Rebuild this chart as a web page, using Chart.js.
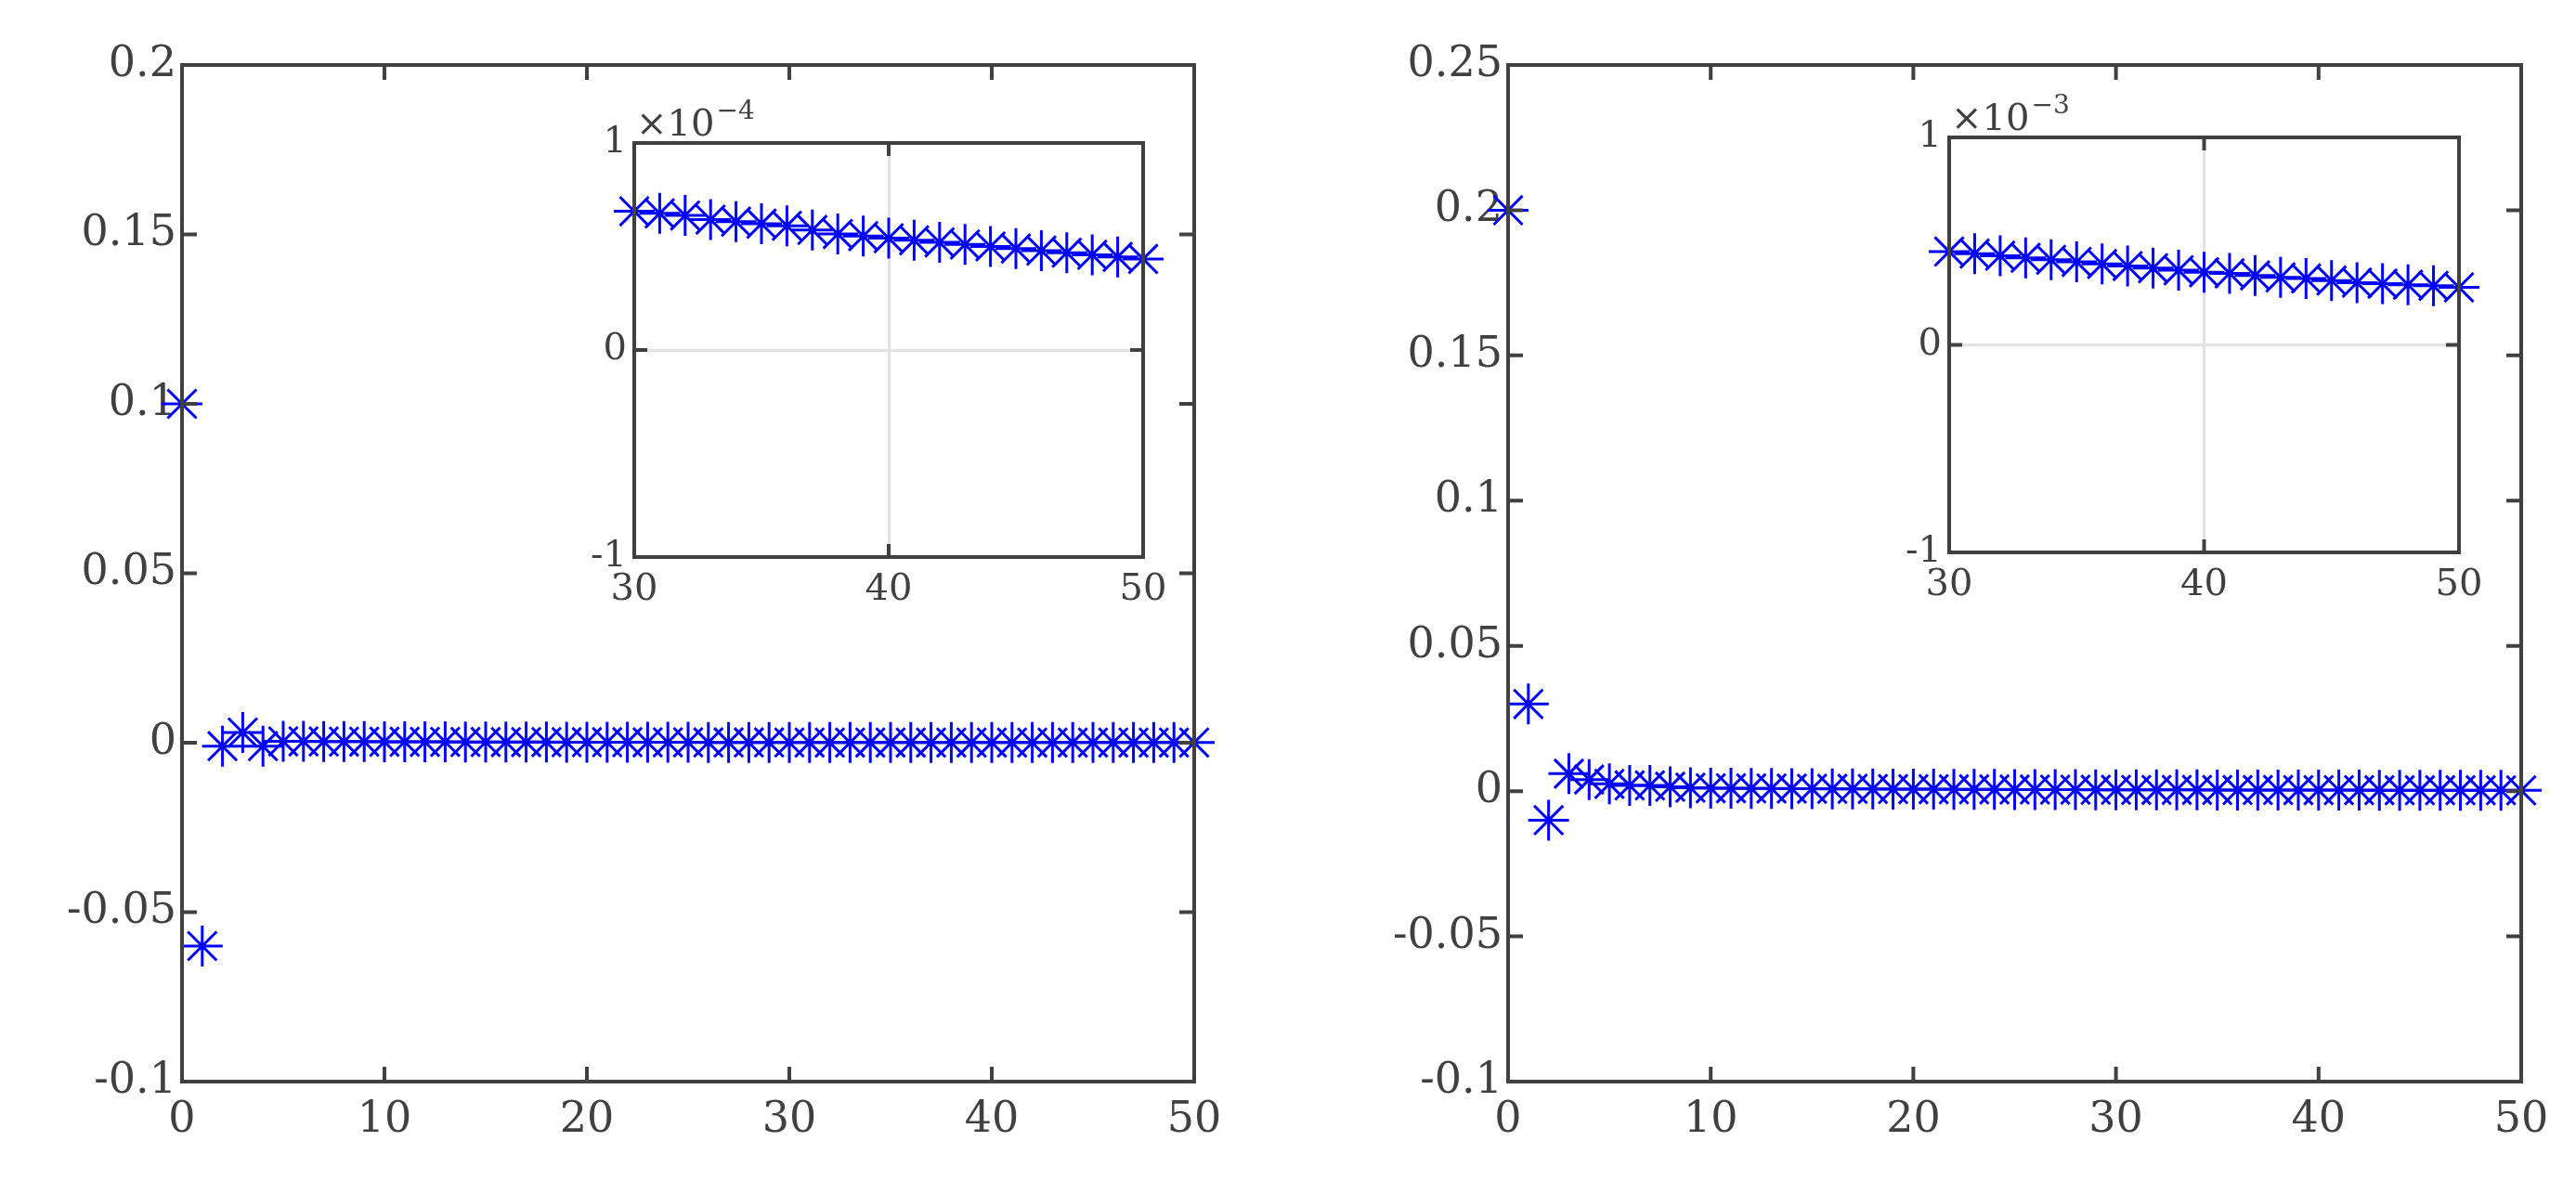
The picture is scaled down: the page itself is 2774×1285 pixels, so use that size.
<!DOCTYPE html>
<html><head><meta charset="utf-8">
<script src="https://cdn.jsdelivr.net/npm/chart.js@4"></script>
<style>body{margin:0;background:#fff;width:2774px;height:1285px;position:relative;overflow:hidden}canvas{position:absolute}</style>
</head><body>
<canvas id="m1"></canvas><canvas id="i1"></canvas><canvas id="m2"></canvas><canvas id="i2"></canvas>
<script>
const iters = Array.from({length:51},(_,i)=>i);
const insetIters = iters.slice(30);
const leftValues = [0.1,-0.06,-0.001,0.003,-0.001,0.0004,0.00038,0.00036,0.00034,0.00032,0.0003,0.00028,0.00026,0.00025,0.00023,0.00022,0.0002,0.00019,0.00018,0.00017,0.00016,0.00015,0.00014,0.00013,0.00012,0.00011,0.0001,0.000095,0.00009,0.000085];
const leftInset = [0.67,0.66,0.65,0.63,0.62,0.61,0.60,0.58,0.56,0.55,0.54,0.53,0.52,0.51,0.50,0.49,0.48,0.47,0.46,0.45,0.44];
const rightValues = [0.2,0.03,-0.01,0.006,0.004,0.0025,0.002,0.002,0.0015,0.0012,0.001,0.00097,0.00094,0.0009,0.00087,0.00084,0.0008,0.00077,0.00074,0.00071,0.00068,0.00066,0.00063,0.00061,0.00058,0.00056,0.00054,0.00052,0.0005,0.00048];
const rightInset = [0.45,0.44,0.43,0.42,0.41,0.40,0.39,0.38,0.37,0.36,0.35,0.345,0.335,0.325,0.32,0.31,0.30,0.295,0.29,0.285,0.277];
const leftYTicks=[-0.1,-0.05,0,0.05,0.1,0.15,0.2], rightYTicks=[-0.1,-0.05,0,0.05,0.1,0.15,0.2,0.25];
const mainXTicks=[0,10,20,30,40,50], insetXTicks=[30,40,50], insetYTicks=[-1,0,1];

const FONT='"DejaVu Serif","Liberation Serif",serif', INK='#404040';
function pts(xs,ys){return xs.map((x,i)=>({x,y:ys[i]}));}

function make(id,cw,ch,cx,cy,box,data,xt,yt,opts){
  const c=document.getElementById(id);
  c.width=cw;c.height=ch;
  c.style.left=cx+'px';c.style.top=cy+'px';c.style.width=cw+'px';c.style.height=ch+'px';
  const L=box.l-cx,T=box.t-cy,R=cx+cw-box.r,B=cy+ch-box.b;
  const fs=opts.fs;
  const frame={id:'frame'+id,
    beforeDraw(ch){if(opts.inset){const a=ch.chartArea,g=ch.ctx;g.save();g.fillStyle='#fff';g.fillRect(a.left,a.top,a.right-a.left,a.bottom-a.top);g.restore();}},
    afterDraw(ch){const a=ch.chartArea,g=ch.ctx,sx=ch.scales.x,sy=ch.scales.y,tl=opts.tl;
      g.save();g.strokeStyle=INK;g.lineWidth=opts.lw;g.strokeRect(a.left,a.top,a.right-a.left,a.bottom-a.top);
      g.beginPath();
      xt.forEach(v=>{const p=sx.getPixelForValue(v);g.moveTo(p,a.bottom);g.lineTo(p,a.bottom-tl);g.moveTo(p,a.top);g.lineTo(p,a.top+tl);});
      yt.forEach(v=>{const p=sy.getPixelForValue(v);g.moveTo(a.left,p);g.lineTo(a.left+tl,p);g.moveTo(a.right,p);g.lineTo(a.right-tl,p);});
      g.stroke();
      if(opts.exp){g.fillStyle=INK;g.textBaseline='alphabetic';g.font=fs+'px '+FONT;g.fillText('×10',a.left+2,a.top-8);
        const w=g.measureText('×10').width;g.font=Math.round(fs*0.7)+'px '+FONT;g.fillText(opts.exp,a.left+4+w,a.top-26);}
      g.restore();}};
  const tk=()=>({autoSkip:false,maxRotation:0,color:INK,font:{family:FONT,size:fs},callback:v=>String(+(+v).toFixed(4))});
  new Chart(c,{type:'scatter',
    data:{datasets:[{data,pointStyle:'star',radius:opts.r,borderColor:'#0000ff',backgroundColor:'#0000ff',borderWidth:3,showLine:false,clip:false}]},
    options:{responsive:false,animation:false,devicePixelRatio:1,events:[],
      layout:{padding:{left:0,top:T,right:R,bottom:0}},
      plugins:{legend:{display:false},tooltip:{enabled:false}},
      scales:{
        x:{type:'linear',min:xt[0],max:xt[xt.length-1],afterBuildTicks:s=>{s.ticks=xt.map(v=>({value:v}));},
           afterFit:s=>{s.height=B;},border:{display:false},
           grid:{display:!!opts.inset,color:'#e3e3e3',lineWidth:3,drawTicks:false},ticks:{...tk(),padding:opts.xpad}},
        y:{type:'linear',min:yt[0],max:yt[yt.length-1],afterBuildTicks:s=>{s.ticks=yt.map(v=>({value:v}));},
           afterFit:s=>{s.width=L;},border:{display:false},
           grid:{display:!!opts.inset,color:'#e3e3e3',lineWidth:3,drawTicks:false},ticks:{...tk(),padding:opts.ypad}}
      }},
    plugins:[frame]});
}
make('m1',1387,1285,0,0,{l:196,t:70,r:1286,b:1165},pts(iters,leftValues.concat(leftInset.map(v=>v*1e-4))),mainXTicks,leftYTicks,{fs:46,lw:4,tl:16,r:22,xpad:14,ypad:6});
make('i1',800,600,480,60,{l:683,t:154,r:1231,b:600},pts(insetIters,leftInset),insetXTicks,insetYTicks,{fs:40,lw:4,tl:14,r:22,xpad:12,ypad:8,inset:true,exp:'−4'});
make('m2',1387,1285,1387,0,{l:1624,t:70,r:2715,b:1165},pts(iters,rightValues.concat(rightInset.map(v=>v*1e-3))),mainXTicks,rightYTicks,{fs:46,lw:4,tl:16,r:22,xpad:14,ypad:6});
make('i2',800,600,1900,54,{l:2099,t:148,r:2648,b:595},pts(insetIters,rightInset),insetXTicks,insetYTicks,{fs:40,lw:4,tl:14,r:22,xpad:12,ypad:8,inset:true,exp:'−3'});
</script></body></html>
